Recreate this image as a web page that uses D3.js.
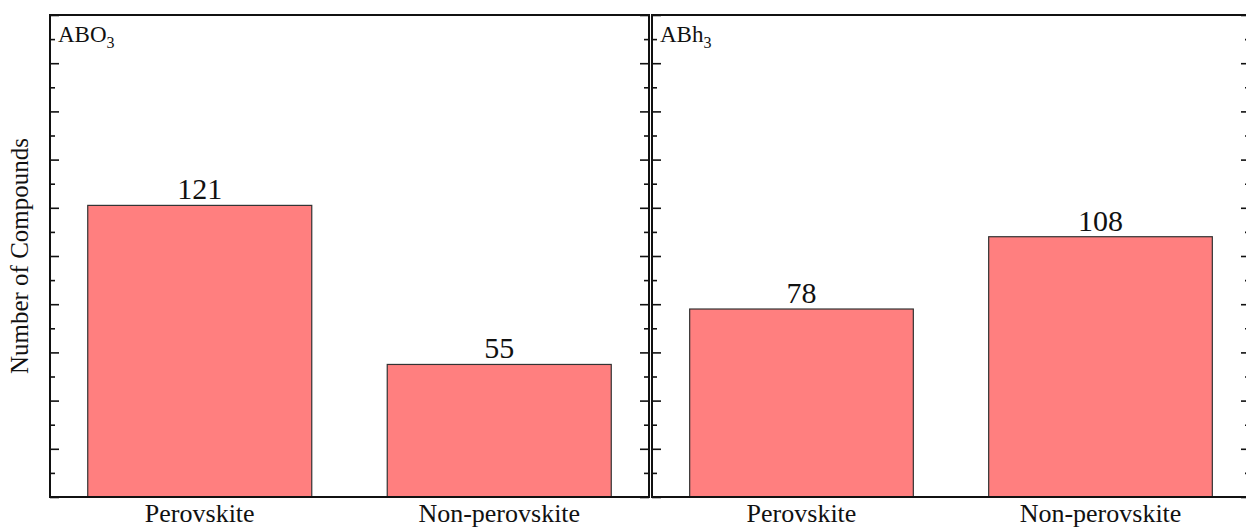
<!DOCTYPE html>
<html>
<head>
<meta charset="utf-8">
<script src="https://cdn.jsdelivr.net/npm/d3@7"></script>
<style>
  html, body { margin: 0; padding: 0; background: #fff; }
  svg { display: block; }
  text { font-family: "Liberation Serif", "Times New Roman", serif; fill: #111; }
</style>
</head>
<body>
<svg id="chart" width="1246" height="529"></svg>
<script>
// Compound counts per structure class
const categories = ["Perovskite", "Non-perovskite"];
const aboCounts = [121, 55];
const abhCounts = [78, 108];
const panelNames = ["ABO", "ABh"];
const panelSubscripts = ["3", "3"];
const yDomain = [0, 200];
const majorStep = 20;
const minorStep = 10;

const svg = d3.select("#chart");
const plotTop = 15, plotBottom = 497;
const panelsX = [[50, 649], [652, 1250]];
const seriesList = [aboCounts, abhCounts];

const y = d3.scaleLinear().domain(yDomain).range([plotBottom, plotTop]);
const majorTicks = d3.range(yDomain[0], yDomain[1] + 1, majorStep);
const minorTicks = d3.range(yDomain[0], yDomain[1] + 1, minorStep).filter(v => v % majorStep !== 0);

panelsX.forEach(([x0, x1], i) => {
  const g = svg.append("g");
  const x = d3.scaleBand().domain(categories).range([x0, x1])
    .paddingInner(0.252).paddingOuter(0.126);
  const values = seriesList[i];

  // bars
  g.selectAll("rect.bar").data(categories).join("rect")
    .attr("class", "bar")
    .attr("x", d => x(d))
    .attr("width", x.bandwidth())
    .attr("y", (d, k) => y(values[k]))
    .attr("height", (d, k) => y(0) - y(values[k]))
    .attr("fill", "#ff7f7f")
    .attr("stroke", "#333")
    .attr("stroke-width", 1.2);

  // value labels
  g.selectAll("text.val").data(categories).join("text")
    .attr("class", "val")
    .attr("x", d => x(d) + x.bandwidth() / 2)
    .attr("y", (d, k) => y(values[k]) - 6)
    .attr("text-anchor", "middle")
    .attr("font-size", 30)
    .text((d, k) => values[k]);

  // category labels
  g.selectAll("text.cat").data(categories).join("text")
    .attr("class", "cat")
    .attr("x", d => x(d) + x.bandwidth() / 2)
    .attr("y", 522)
    .attr("text-anchor", "middle")
    .attr("font-size", 26)
    .text(d => d);

  // inward ticks on both vertical edges
  const addTicks = (axisGen, xpos, size, vals) => {
    const a = g.append("g").attr("transform", `translate(${xpos},0)`)
      .call(axisGen(y).tickValues(vals).tickSize(size).tickFormat(""));
    a.select(".domain").remove();
    a.selectAll("line").attr("stroke", "#111").attr("stroke-width", 1.6);
  };
  addTicks(d3.axisLeft, x0, -9, majorTicks);
  addTicks(d3.axisLeft, x0, -5, minorTicks);
  addTicks(d3.axisRight, x1, -9, majorTicks);
  addTicks(d3.axisRight, x1, -5, minorTicks);

  // frame
  g.append("rect")
    .attr("x", x0).attr("y", plotTop)
    .attr("width", x1 - x0).attr("height", plotBottom - plotTop)
    .attr("fill", "none").attr("stroke", "#111").attr("stroke-width", 2);

  // panel title with subscript
  const t = g.append("text")
    .attr("x", x0 + 8).attr("y", 42)
    .attr("font-size", 23);
  t.append("tspan").text(panelNames[i]);
  t.append("tspan").attr("font-size", 16).attr("dy", 6).text(panelSubscripts[i]);
});

// y axis title
svg.append("text")
  .attr("transform", `translate(28,${(plotTop + plotBottom) / 2}) rotate(-90)`)
  .attr("text-anchor", "middle")
  .attr("font-size", 25)
  .text("Number of Compounds");
</script>
</body>
</html>
